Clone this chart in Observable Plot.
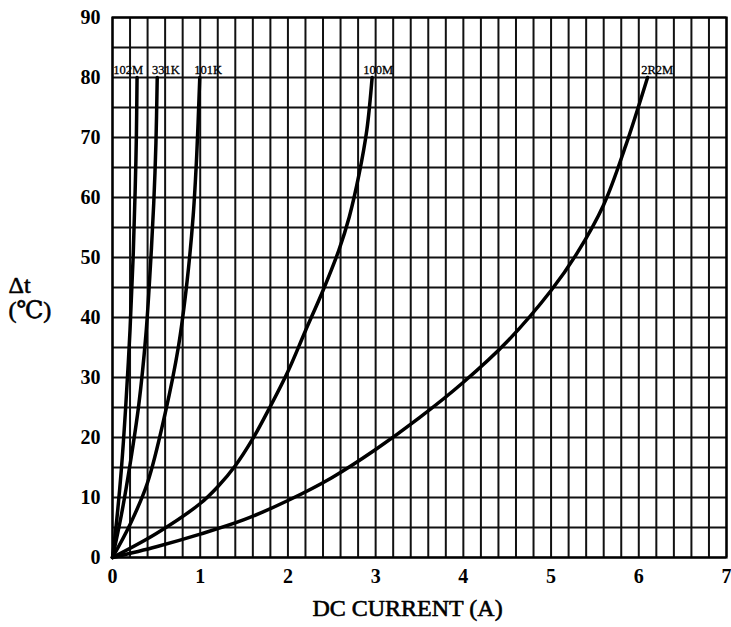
<!DOCTYPE html>
<html>
<head>
<meta charset="utf-8">
<script src="https://cdn.jsdelivr.net/npm/d3@7"></script>
<script src="https://cdn.jsdelivr.net/npm/@observablehq/plot@0.6"></script>
<style>
  html, body { margin: 0; padding: 0; background: #fff; }
  #chart svg { display: block; }
</style>
</head>
<body>
<div id="chart"></div>
<script>
// Curve data (DC current A, temperature rise °C)
const c102M_x = [0, 0.05, 0.10, 0.15, 0.20, 0.235, 0.258, 0.272, 0.28];
const c102M_y = [0, 6.5, 14.5, 25, 38, 50, 61, 70, 80];
const c331K_x = [0, 0.10, 0.20, 0.30, 0.38, 0.43, 0.47, 0.495, 0.51];
const c331K_y = [0, 7, 15.5, 25.5, 37, 48, 59, 69, 80];
const c101K_x = [0, 0.20, 0.40, 0.60, 0.75, 0.85, 0.92, 0.96, 0.995];
const c101K_y = [0, 5.5, 12.5, 24, 35, 46, 57, 67, 80];
const c100M_x = [0, 0.5, 1.0, 1.2, 1.4, 1.6, 1.8, 2.0, 2.2, 2.4, 2.58, 2.7, 2.81, 2.9, 2.96];
const c100M_y = [0, 4, 9, 11.8, 15.3, 19.8, 25.2, 31, 37.8, 44.5, 51.2, 56.8, 63.8, 71.3, 80];
const c2R2M_x = [0, 0.5, 1.0, 1.5, 2.0, 2.5, 3.0, 3.5, 4.0, 4.5, 5.0, 5.3, 5.6, 5.85, 6.1];
const c2R2M_y = [0, 1.8, 3.9, 6.3, 9.5, 13.3, 18, 23.3, 29.2, 36, 44.5, 50.8, 58.8, 68.6, 80];

const seriesNames = ["102M", "331K", "101K", "100M", "2R2M"];
const seriesX = [c102M_x, c331K_x, c101K_x, c100M_x, c2R2M_x];
const seriesY = [c102M_y, c331K_y, c101K_y, c100M_y, c2R2M_y];

// Curve label anchor positions (data units)
const labelX = [0.18, 0.61, 1.09, 3.03, 6.21];
const labelY = [81.3, 81.3, 81.3, 81.3, 81.3];

const xTicks = [0, 1, 2, 3, 4, 5, 6, 7];
const yTicks = [0, 10, 20, 30, 40, 50, 60, 70, 80, 90];
const xGrid = d3.range(0, 36).map(i => i * 0.2);
const yGrid = d3.range(0, 19).map(i => i * 5);

const xTitle = "DC CURRENT (A)";
const yTitle = "\u0394t\n(\u2103)";

const points = [];
seriesNames.forEach((name, i) => {
  seriesX[i].forEach((x, j) => points.push({ series: name, x, y: seriesY[i][j] }));
});
const labels = seriesNames.map((name, i) => ({ name, x: labelX[i], y: labelY[i] }));

const serif = "'Liberation Serif', 'DejaVu Serif', serif";

const chart = Plot.plot({
  width: 731,
  height: 627,
  marginLeft: 112,
  marginRight: 5,
  marginTop: 17,
  marginBottom: 70,
  style: { background: "#fff", fontFamily: serif, color: "#000" },
  x: { domain: [0, 7] },
  y: { domain: [0, 90] },
  marks: [
    Plot.ruleX(xGrid, { stroke: "#111", strokeWidth: 2 }),
    Plot.ruleY(yGrid, { stroke: "#111", strokeWidth: 2 }),
    Plot.frame({ stroke: "#000", strokeWidth: 2.2 }),
    Plot.line(points, { x: "x", y: "y", z: "series", stroke: "#000", strokeWidth: 3.5, curve: "catmull-rom" }),
    Plot.text(labels, { x: "x", y: "y", text: "name", fontSize: 12.5, fill: "#000", stroke: "#000", strokeWidth: 0.3, fontFamily: serif }),
    Plot.axisX({ ticks: xTicks, tickSize: 0, tickPadding: 11, fontSize: 20, fontWeight: "bold", tickFormat: d => String(d), label: null }),
    Plot.axisY({ ticks: yTicks, tickSize: 0, tickPadding: 12, fontSize: 20, fontWeight: "bold", tickFormat: d => String(d), label: null }),
    Plot.text([xTitle], { frameAnchor: "bottom", dy: 58, dx: -12, fontSize: 24, fill: "#000", stroke: "#000", strokeWidth: 0.6, text: d => d }),
    Plot.text([yTitle], { frameAnchor: "left", dx: -104, dy: 10, textAnchor: "start", fontSize: 24, fill: "#000", stroke: "#000", strokeWidth: 0.6, lineHeight: 1.05, text: d => d })
  ]
});
document.getElementById("chart").appendChild(chart);
</script>
</body>
</html>
